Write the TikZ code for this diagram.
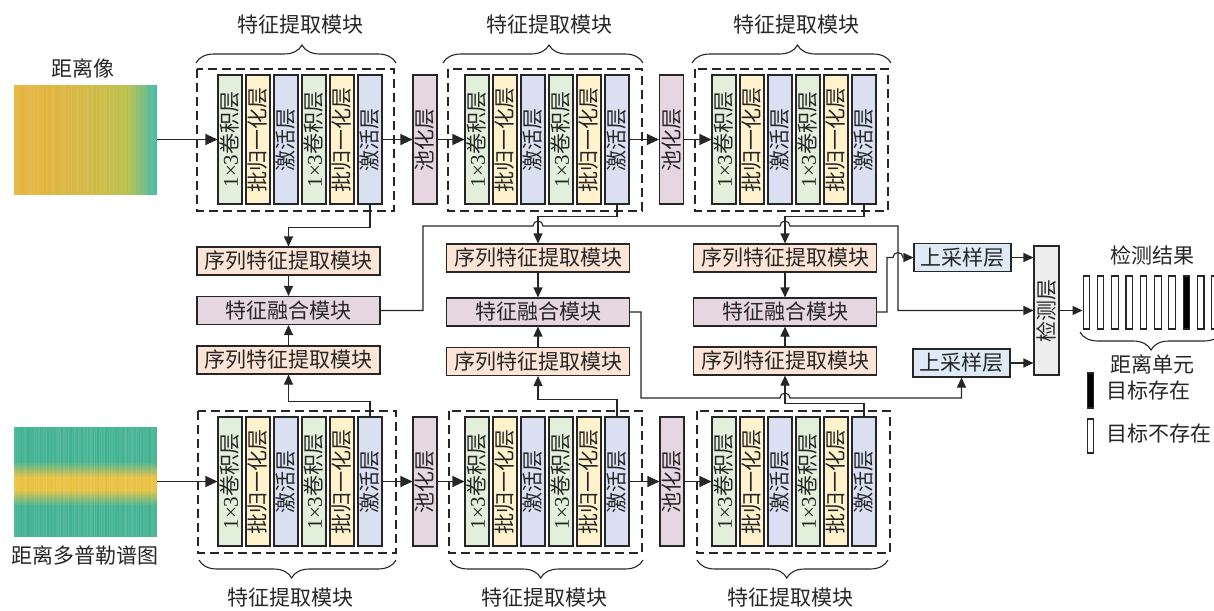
\documentclass[tikz,border=0pt]{standalone}
\usepackage{fontspec}
\setmainfont{Liberation Serif}
\newfontfamily\cjk{Noto Sans CJK SC}
\usepackage{graphicx}
\usetikzlibrary{arrows.meta,decorations.pathreplacing,calc}

\definecolor{convc}{HTML}{E2EFDA}
\definecolor{bnc}{HTML}{FFF2CC}
\definecolor{actc}{HTML}{DAE0F2}
\definecolor{poolc}{HTML}{E6D6E0}
\definecolor{seqc}{HTML}{FCE4D6}
\definecolor{fusec}{HTML}{E6D6E0}
\definecolor{upc}{HTML}{DEEBF7}
\definecolor{detc}{HTML}{EDEDED}
\definecolor{lc}{HTML}{262626}
\definecolor{rimgY}{HTML}{E4B33C}
\definecolor{rimgG}{HTML}{B7BF46}
\definecolor{rimgT}{HTML}{3DB6A6}
\definecolor{specY}{HTML}{E9C03C}
\definecolor{specG}{HTML}{40B190}

\tikzset{
  base/.style={draw=lc, line width=1.1pt, inner sep=0pt, text=lc,
    font=\cjk\fontsize{21}{25}\selectfont},
  layer/.style={base, minimum width=24pt, minimum height=129pt},
  convbox/.style={layer, fill=convc},
  bnbox/.style={layer, fill=bnc},
  actbox/.style={layer, fill=actc},
  poolbox/.style={layer, fill=poolc},
  modbox/.style={base, minimum width=183pt, minimum height=28pt},
  seqbox/.style={modbox, fill=seqc},
  fusebox/.style={modbox, fill=fusec},
  upbox/.style={base, fill=upc, minimum width=97pt, minimum height=28pt},
  detbox/.style={base, fill=detc, minimum width=25pt, minimum height=129pt},
  barbox/.style={draw=lc, line width=1.1pt, fill=white, minimum width=6.5pt, minimum height=53pt, inner sep=0pt},
  conn/.style={draw=lc, line width=1.1pt, -{Triangle[length=10pt,width=9pt]}},
  bigconn/.style={draw=lc, line width=1.1pt, -{Triangle[length=12pt,width=11pt]}},
  dashbox/.style={draw=lc, line width=1.1pt, dash pattern=on 9pt off 5pt},
  bracedec/.style={draw=lc, line width=1.1pt, decorate,
    decoration={brace, amplitude=18pt, aspect=#1}},
  bracedec/.default=0.5,
  lbl/.style={inner sep=0pt, text=lc, font=\cjk\fontsize{21}{25}\selectfont},
  imgnode/.style={inner sep=0pt, minimum width=143pt, minimum height=110pt},
}

\newcommand{\featblock}[3]{%
  \node[convbox] (#1-1) at (#2,#3) {\rotatebox{90}{\rmfamily 1×3\cjk 卷积层}};
  \node[bnbox]   (#1-2) at (#2+28,#3) {\rotatebox{90}{批归一化层}};
  \node[actbox]  (#1-3) at (#2+56,#3) {\rotatebox{90}{激活层}};
  \node[convbox] (#1-4) at (#2+84,#3) {\rotatebox{90}{\rmfamily 1×3\cjk 卷积层}};
  \node[bnbox]   (#1-5) at (#2+112,#3) {\rotatebox{90}{批归一化层}};
  \node[actbox]  (#1-6) at (#2+140,#3) {\rotatebox{90}{激活层}};
}

\begin{document}
\begin{tikzpicture}[x=1pt,y=-1pt]
\useasboundingbox (0,0) rectangle (1214,610);

% ---------- range image ----------
\pgfmathsetseed{7}
\foreach \i in {0,...,142}{
  \pgfmathsetmacro{\rt}{\i/142}
  \pgfmathtruncatemacro{\rc}{\rt<0.8}
  \ifnum\rc=1
    \pgfmathtruncatemacro{\rp}{100*(1-(\rt/0.8)^2)}
    \colorlet{stripc}{rimgY!\rp!rimgG}
  \else
    \pgfmathtruncatemacro{\rp}{100*(1-(\rt-0.8)/0.2)}
    \colorlet{stripc}{rimgG!\rp!rimgT}
  \fi
  \pgfmathtruncatemacro{\rn}{90+10*rnd}
  \fill[stripc!\rn!white] (14+\i,85) rectangle (15.3+\i,195);
}
\node[imgnode] (img1) at (85.5,139.5) {};
\node[lbl] (img1lbl) at (83,68) {距离像};

% ---------- range-Doppler image ----------
\foreach \j in {0,...,54}{
  \pgfmathsetmacro{\ry}{427+2*\j}
  \pgfmathsetmacro{\rd}{abs(\ry+1-484)}
  \pgfmathtruncatemacro{\rw}{100*max(0,1-max(0,\rd-6)/16)}
  \fill[specY!\rw!specG] (14,\ry) rectangle (157,\ry+2.3);
}
\foreach \i in {0,...,142}{
  \pgfmathsetmacro{\ro}{0.14*rnd}
  \fill[white, opacity=\ro] (14+\i,427) rectangle (15+\i,537);
}
\node[imgnode] (img2) at (85.5,481.5) {};
\node[lbl] (img2lbl) at (85,555) {距离多普勒谱图};

% ---------- feature blocks ----------
\featblock{t1}{230}{139.5}
\featblock{t2}{477}{139.5}
\featblock{t3}{724}{139.5}
\featblock{b1}{230}{481.5}
\featblock{b2}{477}{481.5}
\featblock{b3}{724}{481.5}

\node[poolbox] (tp1) at (425,139.5) {\rotatebox{90}{池化层}};
\node[poolbox] (tp2) at (671.5,139.5) {\rotatebox{90}{池化层}};
\node[poolbox] (bp1) at (425,481.5) {\rotatebox{90}{池化层}};
\node[poolbox] (bp2) at (672,481.5) {\rotatebox{90}{池化层}};

\draw[dashbox] (197,69) rectangle (394,211);
\draw[dashbox] (448,69) rectangle (642,211);
\draw[dashbox] (695,69) rectangle (888,211);
\draw[dashbox] (198,411) rectangle (396,553);
\draw[dashbox] (449,411) rectangle (642,553);
\draw[dashbox] (697,411) rectangle (890,553);

% braces and titles
\draw[bracedec=0.53] (196,63) -- (396,63);
\draw[bracedec=0.53] (443,63) -- (643,63);
\draw[bracedec=0.53] (692,63) -- (891,63);
\draw[bracedec=0.53] (396,560) -- (199,560);
\draw[bracedec=0.53] (643,560) -- (450,560);
\draw[bracedec=0.53] (888,560) -- (697,560);
\node[lbl] (tt1) at (300,25) {特征提取模块};
\node[lbl] (tt2) at (549,25) {特征提取模块};
\node[lbl] (tt3) at (796,25) {特征提取模块};
\node[lbl] (bt1) at (290,598) {特征提取模块};
\node[lbl] (bt2) at (544,598) {特征提取模块};
\node[lbl] (bt3) at (790,598) {特征提取模块};

% main row arrows
\draw[bigconn] (img1.east) -- (t1-1.west);
\draw[bigconn] (t1-6.east) -- (tp1.west);
\draw[bigconn] (tp1.east) -- (t2-1.west);
\draw[bigconn] (t2-6.east) -- (tp2.west);
\draw[bigconn] (tp2.east) -- (t3-1.west);
\draw[bigconn] (img2.east) -- (b1-1.west);
\draw[bigconn] (b1-6.east) -- (bp1.west);
\draw[bigconn] (bp1.east) -- (b2-1.west);
\draw[bigconn] (b2-6.east) -- (bp2.west);
\draw[bigconn] (bp2.east) -- (b3-1.west);

% ---------- middle modules ----------
\node[seqbox]  (s1t) at (288.5,261) {序列特征提取模块};
\node[fusebox] (f1)  at (288.5,310.5) {特征融合模块};
\node[seqbox]  (s1b) at (288.5,360) {序列特征提取模块};
\node[seqbox]  (s2t) at (538,258) {序列特征提取模块};
\node[fusebox] (f2)  at (538,312) {特征融合模块};
\node[seqbox]  (s2b) at (538,361.5) {序列特征提取模块};
\node[seqbox]  (s3t) at (785,258) {序列特征提取模块};
\node[fusebox] (f3)  at (785,312) {特征融合模块};
\node[seqbox]  (s3b) at (785,361) {序列特征提取模块};

\node[upbox] (up1) at (962.5,257.5) {上采样层};
\node[upbox] (up2) at (961.5,363) {上采样层};
\node[detbox] (det) at (1046.5,310.5) {\rotatebox{90}{检测层}};

% vertical connectors
\draw[conn] (t1-6.south) -- ++(0,23) -| (s1t.north);
\draw[conn] (t2-6.south) -- ++(0,12) -| (s2t.north);
\draw[conn] (t3-6.south) -- ++(0,12) -| (s3t.north);
\draw[conn] (b1-6.north) -- ++(0,-15) -| (s1b.south);
\draw[conn] (b2-6.north) -- ++(0,-17) -| (s2b.south);
\draw[conn] (b3-6.north) -- ++(0,-13) -| (s3b.south);
\draw[conn] (s1t.south) -- (f1.north);
\draw[conn] (s2t.south) -- (f2.north);
\draw[conn] (s3t.south) -- (f3.north);
\draw[conn] (s1b.north) -- (f1.south);
\draw[conn] (s2b.north) -- (f2.south);
\draw[conn] (s3b.north) -- (f3.south);

% fusion outputs
\draw[conn] (f1.east) -- (423,310.5) -- (423,226) -- (533,226)
  arc[start angle=180,end angle=360,radius=5] -- (780,226)
  arc[start angle=180,end angle=360,radius=5] -- (898,226) |- (det.west);
\draw[conn] (f2.east) -- (641,312) -- (641,398) -- (780,398)
  arc[start angle=180,end angle=360,radius=5] -| (up2.south);
\draw[conn] (f3.east) -- (887,312) -- (887,257.5) -- (893,257.5)
  arc[start angle=180,end angle=360,radius=5] -- (up1.west);
\draw[conn] (up1.east) -- (up1.east -| det.west);
\draw[conn] (up2.east) -- (up2.east -| det.west);

% ---------- detection result ----------
\foreach \i in {0,...,9}{
  \node[barbox] (bar\i) at (1086.3+14.3*\i,302.5) {};
}
\node[barbox, fill=black] (barblk) at (bar7) {};
\draw[conn] (det.east) -- (det.east -| bar0.west);
\node[lbl] (restitle) at (1152,255) {检测结果};
\draw[bracedec] (1222,332) -- (1080,332);
\node[lbl] (cellslbl) at (1152,364) {距离单元};

% legend
\node[barbox, fill=black, minimum height=35pt] (legon) at (1090.5,390.5) {};
\node[lbl, anchor=west] (legontxt) at (1106,391) {目标存在};
\node[barbox, minimum height=34pt] (legoff) at (1090.5,436) {};
\node[lbl, anchor=west] (legofftxt) at (1106,434) {目标不存在};

\end{tikzpicture}
\end{document}
